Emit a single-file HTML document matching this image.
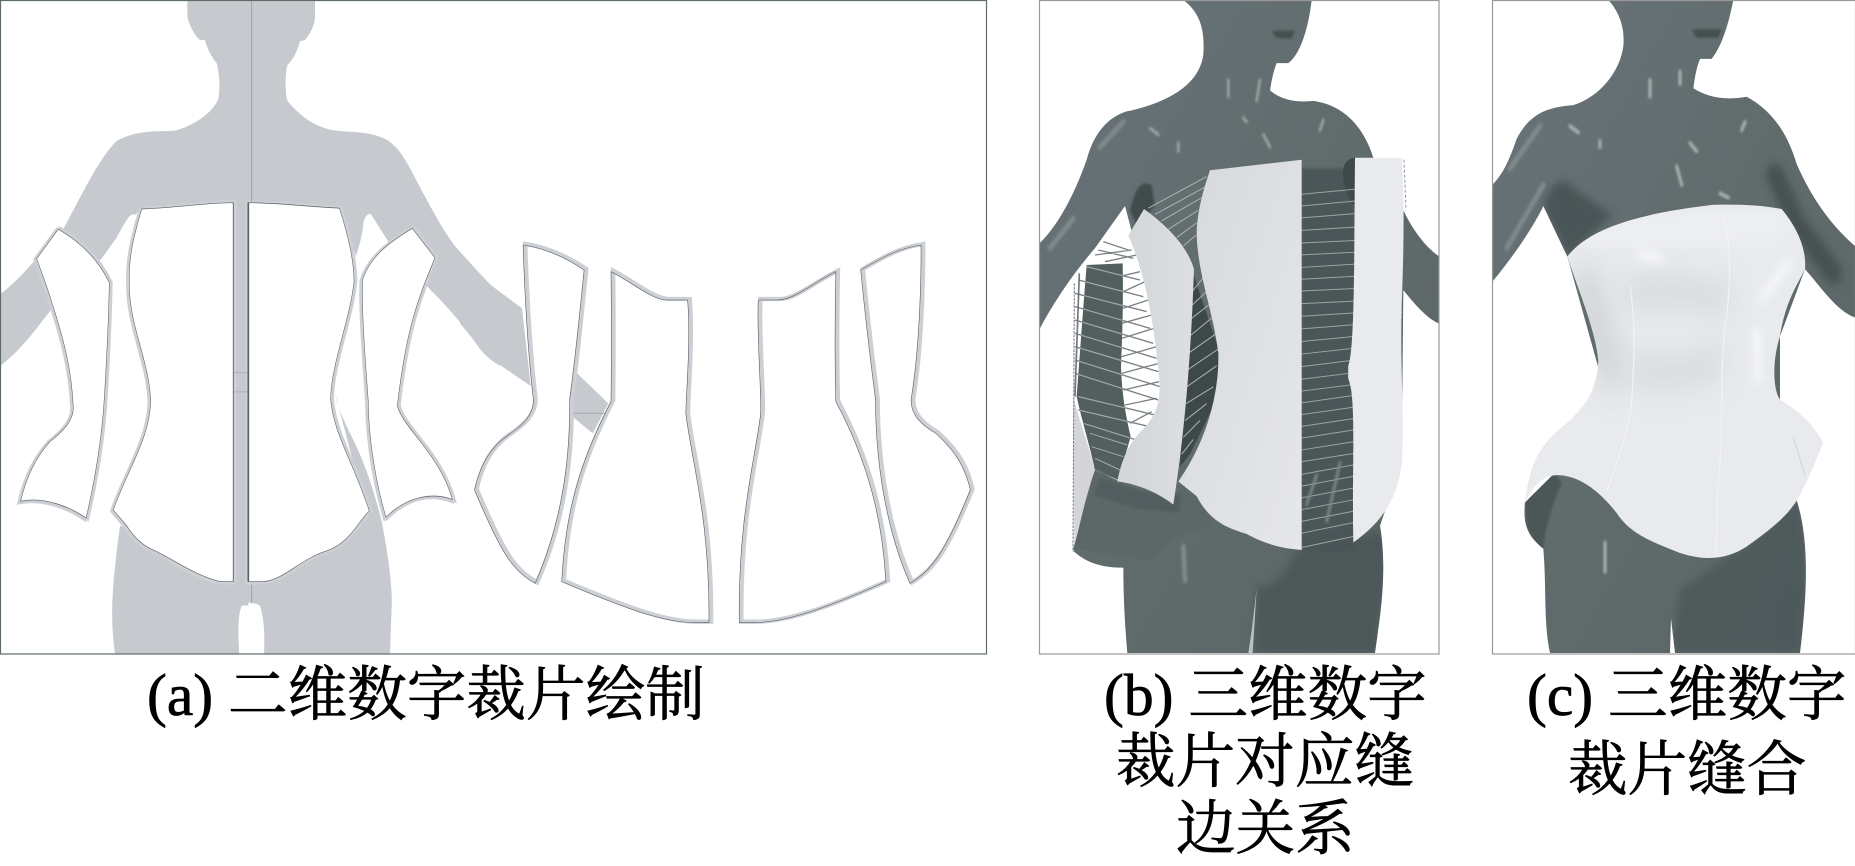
<!DOCTYPE html>
<html><head><meta charset="utf-8"><style>
html,body{margin:0;padding:0;background:#fff}
svg{display:block}
.n{vector-effect:non-scaling-stroke}
text{font-family:"Liberation Serif","Noto Serif CJK SC",serif;font-size:59.6px;fill:#000;stroke:#000;stroke-width:.75px}
</style></head><body>
<svg width="1855" height="866" viewBox="0 0 1855 866" xmlns="http://www.w3.org/2000/svg">
<defs>
<filter id="b" x="-100%" y="-100%" width="300%" height="300%"><feGaussianBlur stdDeviation="3"/></filter>
<filter id="b2" x="-100%" y="-100%" width="300%" height="300%"><feGaussianBlur stdDeviation="34"/></filter>
<filter id="b3" x="-100%" y="-100%" width="300%" height="300%"><feGaussianBlur stdDeviation="11"/></filter>
<linearGradient id="w1" x1="0" x2="1" y1="0" y2="0"><stop offset="0" stop-color="#d2d5d9"/><stop offset="1" stop-color="#dcdee1"/></linearGradient>
<linearGradient id="w2" x1="0" x2="1" y1="0" y2="1"><stop offset="0" stop-color="#d6d8dc"/><stop offset="1" stop-color="#e6e7ea"/></linearGradient>
<linearGradient id="bd" x1="0" x2="1" y1="0" y2="1"><stop offset="0" stop-color="#69747a"/><stop offset=".5" stop-color="#606b6c"/><stop offset="1" stop-color="#5a6566"/></linearGradient>
<clipPath id="cbody"><path d="M460,0C510,30 525,70 520,130C510,190 440,240 290,265C230,280 190,320 170,380C130,470 80,540 27,580L27,785C70,720 130,650 195,590L285,490L305,550L400,700L430,1100L262,1145L190,1110L130,1310C170,1340 220,1350 280,1350C280,1420 285,1490 292,1553L1035,1553C1045,1490 1075,1370 1050,1250L1115,1100L1120,690C1170,740 1200,760 1228,770L1228,610C1190,590 1150,550 1120,500L1030,375C1000,300 940,250 850,240C790,245 750,235 720,215C725,190 730,170 740,150L775,150C810,130 835,70 845,0Z"/></clipPath>
<clipPath id="cbc"><path d="M385,0C420,30 435,70 430,110C420,170 360,230 280,250C200,255 150,270 110,330C80,400 60,420 37,440L37,670C100,610 160,540 190,490L262,610L350,860L400,1000L230,1120L135,1195C130,1240 135,1270 190,1305C200,1400 190,1480 210,1553L960,1553C975,1450 995,1300 950,1190L900,1000L900,800L975,640C1020,680 1070,740 1125,755L1125,585C1060,540 1000,480 950,390C920,310 870,260 800,230C730,240 680,230 640,210C645,180 650,160 660,140L695,140C725,110 745,60 760,0Z"/></clipPath>
<clipPath id="cdark"><path d="M140,75L248,70C250,170 248,260 243,380C245,450 255,520 272,590L235,720L165,690C150,620 125,540 110,470L130,200Z"/></clipPath>
<g id="pa">
<path d="M175,545C230,570 290,610 328,672C325,800 312,958 312,958C300,1100 258,1232 258,1232C210,1205 130,1180 62,1192C80,1130 110,1085 150,1050C190,1025 220,1000 220,970C215,880 195,810 135,670L110,615Z"/>
<path d="M425,497C520,495 620,482 700,482L700,1383L660,1383C590,1370 530,1335 465,1310C420,1295 395,1270 380,1250L340,1213C380,1120 452,1040 452,950C445,850 385,770 388,670C385,600 410,540 425,497Z"/>
<path d="M745,482C830,482 930,492 1018,495C1045,560 1062,620 1062,670C1050,760 992,870 992,950C1000,1030 1060,1100 1108,1215C1070,1245 1050,1290 980,1310C900,1330 850,1380 790,1383L745,1383Z"/>
<path d="M1237,543L1305,613C1260,700 1220,770 1192,965C1210,1020 1320,1080 1357,1188C1300,1170 1220,1180 1158,1230C1120,1130 1105,1020 1105,955C1090,800 1085,720 1088,665C1110,610 1170,575 1237,543Z"/>
</g>
<g id="pb">
<path d="M183,135C250,145 310,175 360,210C335,470 318,598 318,598C320,800 290,980 218,1150C150,1110 120,1060 42,870C60,790 90,740 140,705C190,670 213,640 213,600C190,400 183,135 183,135Z"/>
<path d="M438,215C510,255 560,300 600,300L660,300C670,420 655,590 655,640C670,780 725,950 722,1268L680,1268C600,1268 500,1235 295,1145C305,950 340,800 438,605C440,420 438,215 438,215Z"/>
<path d="M1090,215C1020,250 970,300 920,300L865,300C860,400 875,590 872,640C860,760 805,950 810,1268L850,1268C930,1268 1030,1240 1235,1145C1225,950 1180,780 1090,605C1085,420 1090,215 1090,215Z"/>
<path d="M1337,135C1270,145 1220,175 1162,210C1180,400 1205,598 1205,598C1205,800 1240,1000 1305,1150C1370,1110 1410,1050 1480,870C1460,780 1420,740 1380,700C1330,670 1308,640 1308,600C1340,400 1337,135 1337,135Z"/>
</g>
</defs>
<rect width="1855" height="866" fill="#fff"/>

<!-- PANEL A -->
<g transform="scale(.33333,.4205)">
<path fill="#c6cacf" d="M562,0L562,40C570,65 585,85 600,95L615,95C625,125 640,140 650,150C660,180 660,215 655,235C640,265 590,295 530,310C480,315 420,305 350,335C300,375 260,440 190,545L110,615C80,640 50,670 0,700L0,870C60,835 100,790 155,735L200,700L305,615L350,565C370,535 385,515 395,510L408,510L420,495L1020,495L1068,610C1075,590 1088,560 1090,530C1095,510 1110,505 1115,512L1165,575L1280,680C1330,720 1380,760 1440,830C1460,850 1480,860 1500,870L1500,695C1470,680 1440,650 1370,590C1330,550 1290,490 1230,400C1210,370 1190,350 1180,345C1150,320 1100,315 1030,312C960,310 910,285 862,240C855,215 855,180 862,155C880,140 890,125 900,98L915,95C930,80 945,60 945,40L945,0Z"/>
<path fill="#c6cacf" d="M700,480H745V1440H700Z"/>
<path fill="#c6cacf" d="M1005,935C1015,985 1060,1040 1085,1090C1110,1140 1130,1190 1145,1240C1165,1320 1178,1400 1175,1440L1170,1555L792,1555C795,1510 792,1470 780,1440C760,1432 745,1432 730,1435C715,1450 712,1490 718,1555L345,1555C330,1470 335,1400 360,1250L390,1260L500,1330L1100,1220Z"/>
<use href="#pa" fill="none" stroke="#ccd0d5" stroke-width="12" transform="translate(4,0)"/>
<use href="#pa" fill="none" stroke="#ccd0d5" stroke-width="11" transform="translate(-4,2)"/>
<use href="#pa" fill="#fff" stroke="#5a5f62" stroke-width="1.6"/>
<path class="n" d="M755,0V480M755,1390V1435" stroke="#9ea3a8" stroke-width="1" fill="none"/>
<path class="n" d="M700,886H745M700,932H745" stroke="#aab0b5" stroke-width="1" fill="none"/>
<path d="M700,482V1383" stroke="#6a6f73" stroke-width="3" fill="none"/>
<path d="M745,482V1383" stroke="#5c6165" stroke-width="5" fill="none"/>
</g>
<g transform="translate(460,200) scale(.34483,.33333)">
<path fill="#c6cacf" d="M0,160L70,240L180,325L205,558L80,470L0,370Z"/>
<path fill="#c6cacf" d="M335,515L430,610L385,700L320,645Z"/>
<path class="n" d="M318,640H420" stroke="#a4a9ae" stroke-width="1" fill="none"/>
<use href="#pb" fill="none" stroke="#ccd0d5" stroke-width="13" transform="translate(6,-3)"/>
<use href="#pb" fill="none" stroke="#565b5e" stroke-width="1.7"/>
</g>
<rect x=".5" y=".5" width="986" height="653.5" fill="none" stroke="#5f6c6c" stroke-width="1.2"/>

<!-- PANEL B -->
<g transform="translate(1030,0) scale(.33333,.4205)">
<path fill="url(#bd)" d="M460,0C510,30 525,70 520,130C510,190 440,240 290,265C230,280 190,320 170,380C130,470 80,540 27,580L27,785C70,720 130,650 195,590L285,490L305,550L400,700L430,1100L262,1145L190,1110L130,1310C170,1340 220,1350 280,1350C280,1420 285,1490 292,1553L1035,1553C1045,1490 1075,1370 1050,1250L1115,1100L1120,690C1170,740 1200,760 1228,770L1228,610C1190,590 1150,550 1120,500L1030,375C1000,300 940,250 850,240C790,245 750,235 720,215C725,190 730,170 740,150L775,150C810,130 835,70 845,0Z"/>
<path fill="#404b4c" d="M300,500C320,435 340,430 365,440L375,490L320,535Z" filter="url(#b)"/>
<path fill="#3d4849" d="M485,640L570,840L560,950L480,1080L450,1110Z"/>
<path fill="#4c5758" d="M815,400H975V1310H815Z" filter="url(#b)"/>
<path fill="#3f494a" d="M940,400C945,380 965,375 975,375L975,490C950,470 935,430 940,400Z"/>
<g clip-path="url(#cbody)">
<path fill="#4a5556" d="M680,1395C720,1400 760,1380 800,1310L1060,1260C1075,1370 1045,1480 1035,1553L670,1553Z" opacity=".85" filter="url(#b3)"/>
</g>
<path fill="#fff" d="M955,870L975,830L975,950L955,900Z"/>
</g>
<!-- back piece and stitches, 3x coords -->
<g transform="translate(1040,240) scale(.33333)">
<path fill="#535e5f" d="M140,75L248,70C250,170 248,260 243,380C245,450 255,520 272,590L235,720L165,690C150,620 125,540 110,470L130,200Z"/>
<path fill="#d3d5d9" d="M100,470C115,530 150,630 165,690C140,760 120,850 103,915Z"/>
<path fill="#5c6768" d="M165,690L235,722L395,795L425,730L440,700L520,860L400,890L330,960L180,940L100,925C125,840 145,760 165,690Z"/>
<path fill="none" stroke="#4f5a5b" stroke-width="55" d="M170,740L300,780L420,790" filter="url(#b)" opacity=".7"/>
<path fill="none" stroke="#7a8284" stroke-width="4" d="M190,5L265,30M175,30L280,55M165,45L275,30M195,65L290,45M245,108L300,95M250,155L315,125M248,205L325,180M245,250L335,225M245,295L342,265M245,350L350,320M245,400L357,370M250,450L357,425M255,495L350,475M270,550L335,515"/>
<path fill="none" stroke="#777f81" stroke-width="4" d="M140,80L300,120M115,120L310,170M105,160L320,215M105,200L330,265M105,240L340,310M105,280L350,355M105,320L355,395M105,360L360,440M105,400L355,480M115,470L345,525M115,510L330,560M130,550L290,600"/>
<path fill="none" stroke="#a4aaac" stroke-width="3" clip-path="url(#cdark)" d="M140,80L300,120M115,120L310,170M105,160L320,215M105,200L330,265M105,240L340,310M105,280L350,355M105,320L355,395M105,360L360,440M105,400L355,480M115,470L345,525M115,510L330,560M130,550L290,600M150,580L262,615M155,620L250,650M165,655L240,690M165,690L230,720"/>
<path fill="none" stroke="#70787a" stroke-width="3" stroke-dasharray="8 3" d="M103,130L99,935"/>
<path fill="none" stroke="#70787a" stroke-width="5" d="M118,100L105,470"/>
</g>
<g transform="translate(1030,0) scale(.33333,.4205)">
<path fill="none" stroke="#aeb3b5" stroke-width="1" class="n" d="M355,495L530,420M375,510L525,445M395,525L515,470M415,545L505,500M440,565L500,530M460,585L497,560M480,700L520,660M480,730L535,690M480,760L545,720M478,800L555,750M475,840L565,790M472,880L565,830M470,920L560,870M468,960L550,920M465,1000L530,960M460,1040L510,1000M455,1080L490,1045"/>
<path fill="none" stroke="#9da3a5" stroke-width="1" class="n" d="M815,462L975,450M815,490L975,478M815,518L975,508M815,548L975,540M815,578L975,572M815,606L975,600M815,636L975,628M815,664L975,657M815,692L975,686M815,722L975,716M815,752L975,744M815,782L975,772M815,812L975,800M815,842L975,828M815,872L975,856M815,902L975,886M815,930L975,914M815,958L975,940M815,986L975,968M815,1014L975,995M815,1042L975,1022M815,1070L975,1050M815,1098L975,1078M815,1128L975,1105M815,1156L975,1132M815,1184L975,1160M815,1212L975,1188M815,1240L975,1215M815,1268L975,1242M815,1302L975,1275"/>
<path fill="none" stroke="#8f9799" stroke-width="1" stroke-dasharray="3 2" class="n" d="M1122,380L1128,500M1115,740L1105,880"/>
<path fill="url(#w1)" d="M342,497C400,530 470,580 492,640C485,800 470,1000 430,1200C380,1170 320,1150 262,1145C275,1090 300,1050 340,1020C385,980 395,950 385,880C370,760 345,650 295,560Z"/>
<path fill="url(#w2)" d="M540,405L815,380L815,1308C770,1305 720,1300 650,1270C590,1255 540,1240 500,1180L445,1145C520,1060 568,950 565,840C550,740 505,660 500,560C500,500 525,440 540,405Z"/>
<path fill="#e9eaed" d="M975,375L1115,375C1125,490 1120,620 1115,730C1110,900 1125,1000 1115,1100C1105,1180 1060,1240 970,1290C965,1100 980,950 955,900L955,870C975,830 972,600 975,375Z"/>
<g fill="none" stroke-linecap="round" filter="url(#b)">
<path stroke="#a2abac" stroke-width="7" d="M360,305L385,320M595,190V230M690,190L680,240M880,285L870,310M445,340V360M640,280L650,290M700,320L720,350"/>
<path stroke="#7f898a" stroke-width="14" d="M280,290L210,350M130,520L60,590M460,1300L465,1380"/>
<path stroke="#7d8788" stroke-width="8" d="M930,1100L890,1240M860,1130L830,1200"/>
</g>
<path fill="#454f50" d="M725,73L795,73L785,92L738,90Z" filter="url(#b)"/>
<path fill="#fff" d="M655,1553L665,1500L680,1400L668,1553Z" opacity=".6"/>
</g>
<rect x="1039.5" y=".5" width="399.5" height="653.5" fill="none" stroke="#999" stroke-width="1.2"/>

<!-- PANEL C -->
<g transform="translate(1480,0) scale(.33333,.4205)">
<path fill="url(#bd)" d="M385,0C420,30 435,70 430,110C420,170 360,230 280,250C200,255 150,270 110,330C80,400 60,420 37,440L37,670C100,610 160,540 190,490L262,610L350,860L400,1000L230,1120L135,1195C130,1240 135,1270 190,1305C200,1400 190,1480 210,1553L960,1553C975,1450 995,1300 950,1190L900,1000L900,800L975,640C1020,680 1070,740 1125,755L1125,585C1060,540 1000,480 950,390C920,310 870,260 800,230C730,240 680,230 640,210C645,180 650,160 660,140L695,140C725,110 745,60 760,0Z"/>
<g clip-path="url(#cbc)">
<path fill="none" stroke="#3f4a4b" stroke-width="52" stroke-linecap="round" stroke-linejoin="round" d="M885,415L950,530L1060,650" opacity=".75" filter="url(#b3)"/>
<path fill="#4a5556" d="M190,490C210,440 240,420 265,435C300,460 340,480 400,510L262,610Z" filter="url(#b3)"/>
<path fill="#4b5657" d="M135,1195C150,1170 180,1130 230,1130L245,1150C215,1200 195,1260 190,1305C160,1290 135,1270 135,1195Z" filter="url(#b)"/>
<path fill="#4a5556" d="M600,1400C640,1390 700,1340 800,1300L950,1190C990,1300 975,1450 960,1553L575,1553Z" opacity=".75" filter="url(#b3)"/>
</g>
<path fill="#fff" d="M573,1470L585,1553L570,1553Z"/>
<g fill="none" stroke-linecap="round" filter="url(#b)">
<path stroke="#a9b2b3" stroke-width="9" d="M270,300L295,315M360,335V350M590,395L605,440M510,190V230M600,170V200M720,460L745,470M630,340L650,360M795,290L785,310M375,1290V1360"/>
<path stroke="#7f898a" stroke-width="14" d="M180,300L90,400M190,440L80,590"/>
</g>
<path fill="#454f50" d="M635,70L725,70L715,90L650,90Z" filter="url(#b)"/>
<path fill="#e8eaed" d="M262,610C320,550 450,510 700,487C800,485 860,490 905,497C950,540 980,590 975,640C950,680 915,720 900,800C875,860 880,930 900,950C960,980 1000,1010 1030,1052C1000,1110 985,1140 970,1160C940,1220 870,1260 800,1300C740,1330 680,1335 600,1315C520,1290 450,1270 410,1220C360,1170 300,1130 230,1130C180,1130 150,1170 135,1195C150,1100 180,1060 240,1020C300,980 350,940 355,860C350,790 290,680 262,610Z"/>
<clipPath id="dc"><path d="M262,610C320,550 450,510 700,487C800,485 860,490 905,497C950,540 980,590 975,640C950,680 915,720 900,800C875,860 880,930 900,950C960,980 1000,1010 1030,1052C1000,1110 985,1140 970,1160C940,1220 870,1260 800,1300C740,1330 680,1335 600,1315C520,1290 450,1270 410,1220C360,1170 300,1130 230,1130C180,1130 150,1170 135,1195C150,1100 180,1060 240,1020C300,980 350,940 355,860C350,790 290,680 262,610Z"/></clipPath>
<g clip-path="url(#dc)"><g fill="none" stroke-linecap="round">
<path filter="url(#b2)" stroke="#cdd0d4" stroke-width="90" d="M320,680L390,880" opacity=".8"/>
<path filter="url(#b2)" stroke="#d4d7da" stroke-width="70" d="M460,700C540,680 640,700 720,710M470,880C530,890 640,890 700,860" opacity=".85"/>
<path filter="url(#b2)" stroke="#f0f1f3" stroke-width="60" d="M330,560L900,530"/>
<path filter="url(#b3)" stroke="#f6f7f8" stroke-width="22" d="M845,710L925,625M830,790L835,900M480,605L540,615"/>
</g></g>
<path class="n" fill="none" stroke="#f4f5f6" stroke-width="1" d="M450,680C470,780 460,880 455,960C440,1040 410,1100 380,1170M725,500C760,570 750,700 735,780C720,880 730,1000 720,1100C710,1180 710,1260 708,1325"/>
<path class="n" fill="none" stroke="#cfd2d5" stroke-width="1" d="M940,1040L975,1130"/>
</g>
<rect x="1492.5" y=".5" width="363" height="653.5" fill="none" stroke="#999" stroke-width="1.2"/>

<!-- CAPTIONS -->
<text x="147" y="715">(a) 二维数字裁片绘制</text>
<text x="1104" y="715">(b) 三维数字</text>
<text x="1116" y="782">裁片对应缝</text>
<text x="1176" y="849">边关系</text>
<text x="1527" y="715">(c) 三维数字</text>
<text x="1568" y="790">裁片缝合</text>
</svg>
</body></html>
